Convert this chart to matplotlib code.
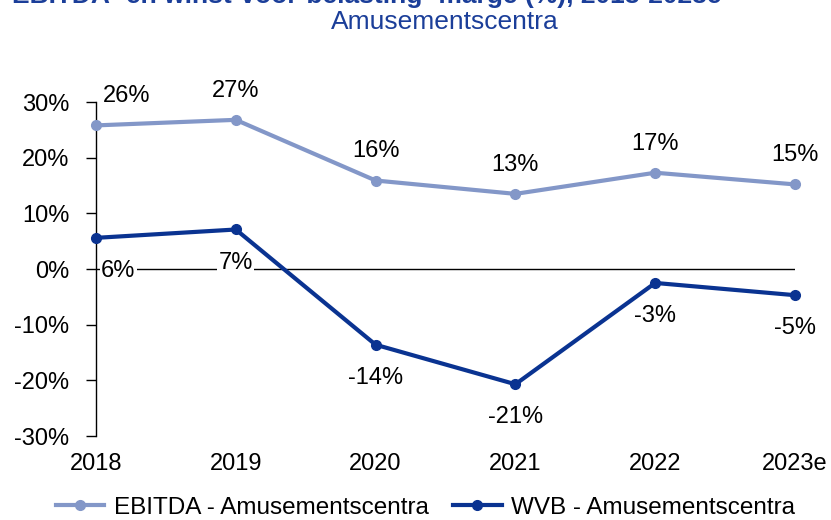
import numpy as np
import matplotlib
matplotlib.use("Agg")
import matplotlib.pyplot as plt


# Data ---------------------------------------------------------------

Years = ["2018", "2019", "2020", "2021", "2022", "2023e"]
EBITDA = [25.8, 26.8, 15.9, 13.5, 17.3, 15.2]
WVB = [5.6, 7.1, -13.6, -20.7, -2.5, -4.7]
EBITDA_Labels = ["26%", "27%", "16%", "13%", "17%", "15%"]
WVB_Labels = ["6%", "7%", "-14%", "-21%", "-3%", "-5%"]

Title_1 = "EBITDA- en winst-voor-belasting- marge (%), 2018-2023e"
Title_2 = "Amusementscentra"


# Plot ---------------------------------------------------------------

plt.rcParams["font.family"] = ["Liberation Sans", "DejaVu Sans"]

C_Light = "#8397C8"
C_Dark = "#0A3391"
C_Title = "#1B3E99"

fig = plt.figure(figsize=(8.31, 5.2), dpi=100)
ax = fig.add_axes([0.1155, 0.1615, 0.8412, 0.6423])

x = np.arange(len(Years))

ax.axhline(0, color="black", linewidth=1.0, zorder=1)

ax.plot(x, np.array(EBITDA) / 100, color=C_Light, linewidth=3, marker="o",
        markersize=7, label="EBITDA - Amusementscentra", zorder=3, clip_on=False)
ax.plot(x, np.array(WVB) / 100, color=C_Dark, linewidth=3, marker="o",
        markersize=7, label="WVB - Amusementscentra", zorder=3, clip_on=False)

# data labels
for i, (v, lab) in enumerate(zip(EBITDA, EBITDA_Labels)):
    dx = 22 if i == 0 else 0
    ax.annotate(lab, (i, v / 100), xytext=(dx, 13), textcoords="offset points",
                ha="center", va="bottom", fontsize=17)

for i, (v, lab) in enumerate(zip(WVB, WVB_Labels)):
    dx = 16 if i == 0 else 0
    ax.annotate(lab, (i, v / 100), xytext=(dx, -16), textcoords="offset points",
                ha="center", va="top", fontsize=17,
                bbox=dict(boxstyle="square,pad=0.05", facecolor="white",
                          edgecolor="none"), zorder=2)

ax.set_xlim(0, len(Years) - 1)
ax.set_ylim(-0.3, 0.3)

ax.set_yticks(np.arange(-0.3, 0.31, 0.1))
ax.set_yticklabels([f"{int(round(t * 100))}%" for t in np.arange(-0.3, 0.31, 0.1)])
ax.set_xticks(x)
ax.set_xticklabels(Years)

for s in ["top", "right", "bottom"]:
    ax.spines[s].set_visible(False)
ax.spines["left"].set_linewidth(1.0)

ax.tick_params(axis="y", direction="out", length=7, width=1, labelsize=17, pad=12)
ax.tick_params(axis="x", length=0, labelsize=17, pad=12)

# first title line is cut off at the top edge, as in the source image
fig.text(12 / 831, 1 - 3 / 520, Title_1, ha="left", va="baseline", fontsize=19,
         fontweight="bold", color=C_Title)
fig.text(445 / 831, 1 - 22 / 520, Title_2, ha="center", va="center", fontsize=19,
         color=C_Title)

fig.legend(loc="center", bbox_to_anchor=(0.512, 0.024), ncol=2, frameon=False,
           fontsize=17.5, handlelength=2.0, columnspacing=1.0, handletextpad=0.4)

fig.savefig("out.png", dpi=100)
